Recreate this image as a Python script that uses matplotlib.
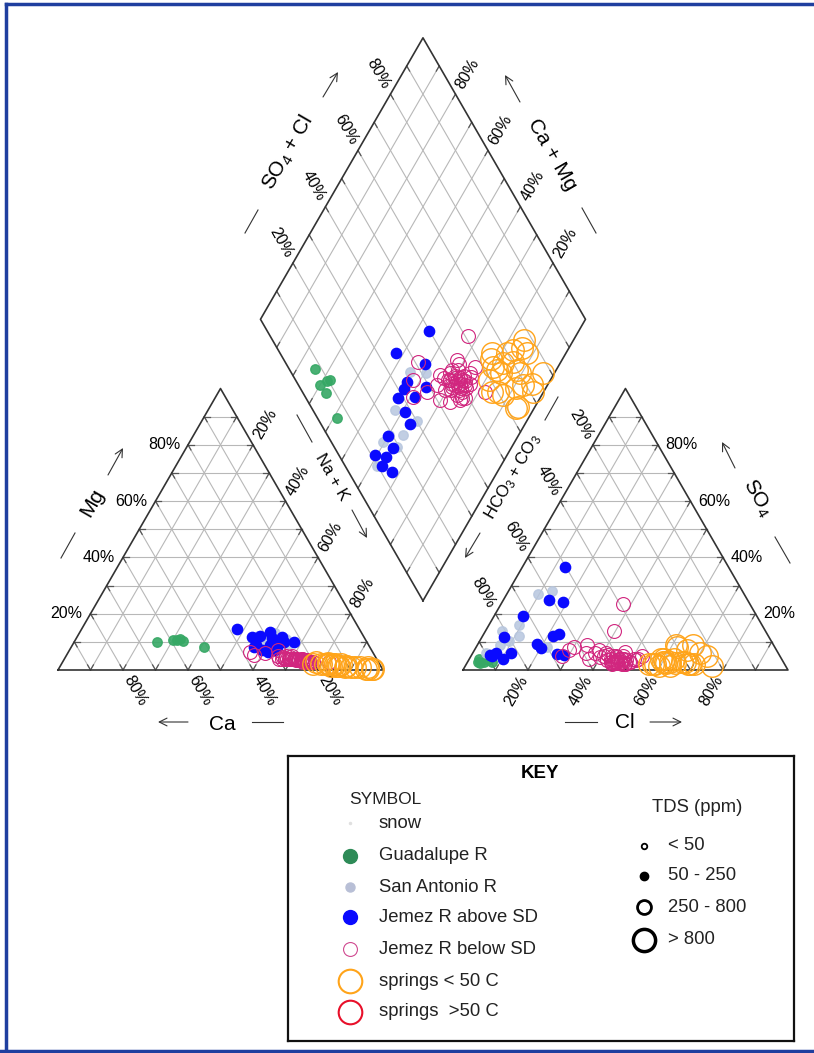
import numpy as np
import matplotlib.pyplot as plt

plt.rcParams['font.family'] = ['Liberation Sans', 'DejaVu Sans']
plt.rcParams['mathtext.default'] = 'regular'

# percent of meq/L: Ca, Mg (cations, Na+K is the rest), SO4, Cl (anions, HCO3+CO3 is the rest)
guad_ca = [64.5, 58, 59.5, 57, 56.5, 50.9]
guad_mg = [10, 10.7, 10.5, 11, 10.2, 8.2]
guad_so4 = [3, 3.5, 2.5, 3, 4, 3]
guad_cl = [5, 6, 4, 7.5, 3, 3]

sanant_ca = [32.6, 26.6, 32.5, 24.7, 24.5, 28.5, 25.3, 27, 30]
sanant_mg = [12, 13, 10, 9, 11, 12, 10, 11, 10]
sanant_so4 = [27, 28, 16, 8, 12, 9, 10.4, 6, 14]
sanant_cl = [9.6, 13.4, 9.3, 22, 11.3, 6.9, 8.9, 4, 5]

above_ca = [34.5, 37.6, 28, 35.6, 34.5, 25.3, 31.8, 32.2, 30.3, 25.4, 28.5, 26.4, 33.7, 29.7, 28.6, 22.4]
above_mg = [11.7, 14.6, 13.5, 8.2, 9, 11.7, 12, 6.4, 8.9, 10, 11.4, 10, 7.1, 7.1, 8, 10]
above_so4 = [36.5, 12.9, 24, 12.1, 5.7, 25, 19.3, 5.4, 7.9, 9.3, 11.8, 6.1, 5.4, 3.9, 5, 6]
above_cl = [13.3, 23, 18.7, 21.8, 26.2, 14.1, 8.9, 28.3, 20, 18, 6.8, 11.8, 5.7, 10.4, 6.4, 7.3]

below_ca = [29, 27.3, 37.6, 36.8, 33.3, 28.9, 30, 25.5, 23, 21.3, 22.5, 22.5,
            28, 24.5, 24.4, 22, 26.6, 21.5, 21, 27.5, 26.2, 30, 23, 25, 22.5,
            26, 24, 20, 27, 25, 23, 25.5, 22, 28, 15,
            25, 23.5, 27, 21.5, 24, 26.5, 22.5, 25.5, 23, 28.5, 24.5, 21]
below_mg = [4, 5, 6.4, 5.5, 6, 7, 4, 5, 4, 3, 3, 3.5,
            4.2, 3.5, 4, 3.4, 4, 3.6, 3, 4, 4, 4.9, 4, 4, 3.5,
            4, 3.5, 3, 4, 3.5, 3.5, 4, 3, 4, 3,
            4, 3.5, 4, 3, 3.5, 4.5, 3.5, 4, 3, 4.5, 3.5, 3]
below_so4 = [23.6, 13.9, 6, 7, 5, 8, 9, 4, 6, 3, 5, 3.5,
             5, 4, 3, 2.5, 4.5, 3.5, 3, 6, 5, 7, 2, 3.5, 2,
             4, 3, 2.5, 6.5, 4.5, 3, 2.5, 4, 3, 4,
             3, 4, 5.5, 2, 3, 4, 5, 2.5, 3.5, 5, 2, 3]
below_cl = [37.4, 39.4, 35, 29, 28, 30.3, 33.6, 36.9, 37.6, 44, 52.5, 51.5,
            43.8, 47, 45.2, 48.7, 39.8, 45.6, 50, 40.9, 46.8, 38.3, 48, 42.5, 45,
            46, 49.5, 46.5, 46.5, 45, 45.5, 45, 50.5, 47, 52,
            44, 47.5, 42, 49, 46, 43.5, 44.5, 47, 48.5, 41, 49, 45]

spr_ca = [20.6, 13.7, 10.7, 2.7, 4.2, 12, 16, 15.3, 15.7, 11.1, 15.7, 9.5, 10.5, 5, 13.9,
          19, 18, 13.2, 12.9, 4.5, 3, 8, 17, 6.5, 14.5]
spr_mg = [2, 1.5, 1.5, 0.5, 1, 2, 2, 1.5, 2, 1, 2.5, 1, 1.5, 0.5, 2,
          3, 2, 1.5, 1.5, 0.5, 0.5, 1, 2, 1, 2]
spr_so4 = [3, 5, 6, 2, 3, 2, 8, 7, 4, 3, 2.5, 2, 1.5, 4, 2,
           4, 3, 9, 9, 2, 1.5, 2.5, 2, 3, 1.5]
spr_cl = [62.3, 72.5, 70, 69, 60.6, 58.2, 62, 65.3, 62.8, 66.9, 61.3, 68.3, 59.6, 59, 56.3,
          60, 60, 61, 66.4, 70, 76, 64, 57.5, 66, 63]

key_symbols = ['snow', 'Guadalupe R', 'San Antonio R', 'Jemez R above SD',
               'Jemez R below SD', 'springs < 50 C', 'springs  >50 C']
key_tds = ['< 50', '50 - 250', '250 - 800', '> 800']

R3 = np.sqrt(3) / 2
GAP = 0.246
S = 325.0


def P(px, py):
    # pixel position -> diagram units
    return (px - 58) / S, (670 - py) / S


def cation_xy(ca, mg):
    ca = np.asarray(ca, float) / 100
    mg = np.asarray(mg, float) / 100
    na = 1 - ca - mg
    return na + mg / 2, mg * R3


def anion_xy(so4, cl):
    so4 = np.asarray(so4, float) / 100
    cl = np.asarray(cl, float) / 100
    return 1 + GAP + cl + so4 / 2, so4 * R3


def diamond_pq(p, q):
    bx, by = 1 + GAP / 2, GAP * R3
    return bx - 0.5 * p + 0.5 * q, by + R3 * (p + q)


def diamond_xy(ca, mg, so4, cl):
    p = (np.asarray(ca, float) + np.asarray(mg, float)) / 100
    q = (np.asarray(so4, float) + np.asarray(cl, float)) / 100
    return diamond_pq(p, q)


fig = plt.figure(figsize=(8.14, 10.53), dpi=100)
ax = fig.add_axes([0, 0, 1, 1])
ax.set_xlim(-58 / S, (814 - 58) / S)
ax.set_ylim(-(1053 - 670) / S, 670 / S)
ax.axis('off')

gridc = '#b8b8b8'
edgec = '#333333'
tick = 0.018


def seg(a, b):
    ax.plot([a[0], b[0]], [a[1], b[1]], color=gridc, lw=0.8, zorder=1)
    d = np.array(b) - np.array(a)
    d = d / np.hypot(*d) * tick
    ax.plot([a[0], a[0] + d[0]], [a[1], a[1] + d[1]], color='#555555', lw=0.9, zorder=2)
    ax.plot([b[0], b[0] - d[0]], [b[1], b[1] - d[1]], color='#555555', lw=0.9, zorder=2)


for i in range(1, 10):
    f = i * 10
    # cation triangle
    seg(cation_xy(100 - f, f), cation_xy(0, f))
    seg(cation_xy(f, 0), cation_xy(f, 100 - f))
    seg(cation_xy(100 - f, 0), cation_xy(0, 100 - f))
    # anion triangle
    seg(anion_xy(f, 0), anion_xy(f, 100 - f))
    seg(anion_xy(0, f), anion_xy(100 - f, f))
    seg(anion_xy(0, 100 - f), anion_xy(100 - f, 0))
    # diamond
    seg(diamond_pq(f / 100, 0), diamond_pq(f / 100, 1))
    seg(diamond_pq(0, f / 100), diamond_pq(1, f / 100))

# outlines
for pts in ([cation_xy(100, 0), cation_xy(0, 0), cation_xy(0, 100), cation_xy(100, 0)],
            [anion_xy(0, 0), anion_xy(0, 100), anion_xy(100, 0), anion_xy(0, 0)],
            [diamond_pq(0, 0), diamond_pq(1, 0), diamond_pq(1, 1), diamond_pq(0, 1), diamond_pq(0, 0)]):
    xs = [p[0] for p in pts]
    ys = [p[1] for p in pts]
    ax.plot(xs, ys, color=edgec, lw=1.2, zorder=2)

# percent labels
d = 0.024
fs = 11.5
for v in [20, 40, 60, 80]:
    lab = '%d%%' % v
    x, y = cation_xy(100 - v, v)
    ax.text(x - d, y, lab, ha='right', va='center', fontsize=fs)
    x, y = cation_xy(v, 0)
    ax.text(x + 0.5 * d, y - R3 * d, lab, ha='left', va='center', rotation=-60,
            rotation_mode='anchor', fontsize=fs)
    x, y = cation_xy(0, 100 - v)
    ax.text(x + 0.5 * d, y + R3 * d, lab, ha='left', va='center', rotation=60,
            rotation_mode='anchor', fontsize=fs)
    x, y = anion_xy(0, v)
    ax.text(x - 0.5 * d, y - R3 * d, lab, ha='right', va='center', rotation=60,
            rotation_mode='anchor', fontsize=fs)
    x, y = anion_xy(v, 100 - v)
    ax.text(x + d, y, lab, ha='left', va='center', fontsize=fs)
    x, y = anion_xy(100 - v, 0)
    ax.text(x - 0.5 * d, y + R3 * d, lab, ha='right', va='center', rotation=-60,
            rotation_mode='anchor', fontsize=fs)
    x, y = diamond_pq(1, v / 100)
    ax.text(x - 0.5 * d, y + R3 * d, lab, ha='right', va='center', rotation=-60,
            rotation_mode='anchor', fontsize=fs)
    x, y = diamond_pq(v / 100, 1)
    ax.text(x + 0.5 * d, y + R3 * d, lab, ha='left', va='center', rotation=60,
            rotation_mode='anchor', fontsize=fs)


def title(txt, px, py, rot, size, line, arrow):
    x, y = P(px, py)
    ax.text(x, y, txt, ha='center', va='center', rotation=rot,
            rotation_mode='anchor', fontsize=size)
    a, b = P(*line[0]), P(*line[1])
    ax.plot([a[0], b[0]], [a[1], b[1]], color=edgec, lw=0.8)
    t, h = P(*arrow[0]), P(*arrow[1])
    ax.annotate('', xy=h, xytext=t,
                arrowprops=dict(arrowstyle='->', lw=0.8, color=edgec,
                                shrinkA=0, shrinkB=0, mutation_scale=14))


title('Mg', 92, 503, 60, 15, [(61, 558), (75, 533)], [(108, 475), (123, 448)])
title('Ca', 222, 724, 0, 15, [(252, 722), (283, 722)], [(188, 722), (158, 722)])
title('Na + K', 332, 477, -60, 12, [(297, 415), (312, 442)], [(352, 510), (367, 538)])
title('Cl', 625, 723, 0, 15, [(565, 722), (597, 722)], [(650, 722), (682, 722)])
title('SO$_4$', 757, 498, -60, 15, [(775, 537), (790, 563)], [(735, 468), (722, 442)])
title('HCO$_3$ + CO$_3$', 513, 477, 60, 12, [(545, 420), (558, 397)], [(480, 533), (465, 558)])
title('SO$_4$ + Cl', 288, 152, 60, 15, [(245, 233), (258, 210)], [(323, 97), (338, 72)])
title('Ca + Mg', 552, 155, -60, 15, [(582, 208), (596, 233)], [(520, 102), (505, 75)])

# samples
groups = [
    (guad_ca, guad_mg, guad_so4, guad_cl, dict(marker='o', ls='none', ms=6.8, mfc='#36a865', mec='#36a865', alpha=0.9)),
    (sanant_ca, sanant_mg, sanant_so4, sanant_cl, dict(marker='o', ls='none', ms=6.8, mfc='#b7c6de', mec='#b7c6de', alpha=0.85)),
    (above_ca, above_mg, above_so4, above_cl, dict(marker='o', ls='none', ms=7.4, mfc='#0a0aff', mec='#0a0aff')),
    (below_ca, below_mg, below_so4, below_cl, dict(marker='o', ls='none', ms=10, mfc='none', mec='#d1267f', mew=0.8)),
    (spr_ca, spr_mg, spr_so4, spr_cl, dict(marker='o', ls='none', ms=15.5, mfc='none', mec='#ffa41a', mew=1.0)),
]
for ca, mg, so4, cl, st in groups:
    ax.plot(*cation_xy(ca, mg), zorder=3, **st)
    ax.plot(*anion_xy(so4, cl), zorder=3, **st)
    ax.plot(*diamond_xy(ca, mg, so4, cl), zorder=3, **st)

# key box
kax = fig.add_axes([288 / 814, 1 - 1041 / 1053, (794 - 288) / 814, (1041 - 756) / 1053])
kax.set_xlim(288, 794)
kax.set_ylim(1041, 756)
kax.set_xticks([])
kax.set_yticks([])
for sp in kax.spines.values():
    sp.set_linewidth(1.6)
    sp.set_color('#111111')

kfs = 13.3
kax.text(540, 773, 'KEY', ha='center', va='center', fontsize=13.5, fontweight='bold')
kax.text(349, 800, 'SYMBOL', ha='left', va='center', fontsize=12.5, color='#222222')
sym_y = [823, 856, 887, 917, 949, 981, 1012]
sym_style = [
    dict(ms=1.5, mfc='#e0e0e0', mec='#e0e0e0'),
    dict(ms=10, mfc='#2e8b57', mec='#2e8b57'),
    dict(ms=6.5, mfc='#b8bfd6', mec='#b8bfd6'),
    dict(ms=10, mfc='#0a0aff', mec='#0a0aff'),
    dict(ms=10, mfc='none', mec='#d04a90', mew=0.8),
    dict(ms=17, mfc='none', mec='#ffa41a', mew=1.5),
    dict(ms=17, mfc='none', mec='#e8102a', mew=1.5),
]
for name, yy, st in zip(key_symbols, sym_y, sym_style):
    kax.plot([350], [yy], marker='o', ls='none', **st)
    kax.text(379, yy, name, ha='left', va='center', fontsize=kfs, color='#222222')

kax.text(652, 808, 'TDS (ppm)', ha='left', va='center', fontsize=13.3, color='#222222')
tds_y = [846, 876, 907, 940]
tds_style = [
    dict(ms=4, mfc='none', mec='black', mew=1.3),
    dict(ms=6, mfc='black', mec='black'),
    dict(ms=10, mfc='none', mec='black', mew=2),
    dict(ms=16, mfc='none', mec='black', mew=2.5),
]
for name, yy, st in zip(key_tds, tds_y, tds_style):
    kax.plot([644], [yy], marker='o', ls='none', **st)
    kax.text(668, yy, name, ha='left', va='center', fontsize=kfs, color='#222222')

# page frame
bc = '#1f3f9f'
fig.add_artist(plt.Line2D([6 / 814, 6 / 814], [1 - 4 / 1053, 1 - 1051 / 1053], transform=fig.transFigure, color=bc, lw=2.5))
fig.add_artist(plt.Line2D([6 / 814, 1], [1 - 4 / 1053, 1 - 4 / 1053], transform=fig.transFigure, color=bc, lw=2.5))
fig.add_artist(plt.Line2D([0, 1], [1 - 1051 / 1053, 1 - 1051 / 1053], transform=fig.transFigure, color=bc, lw=2.5))

fig.savefig('out.png', dpi=100)
